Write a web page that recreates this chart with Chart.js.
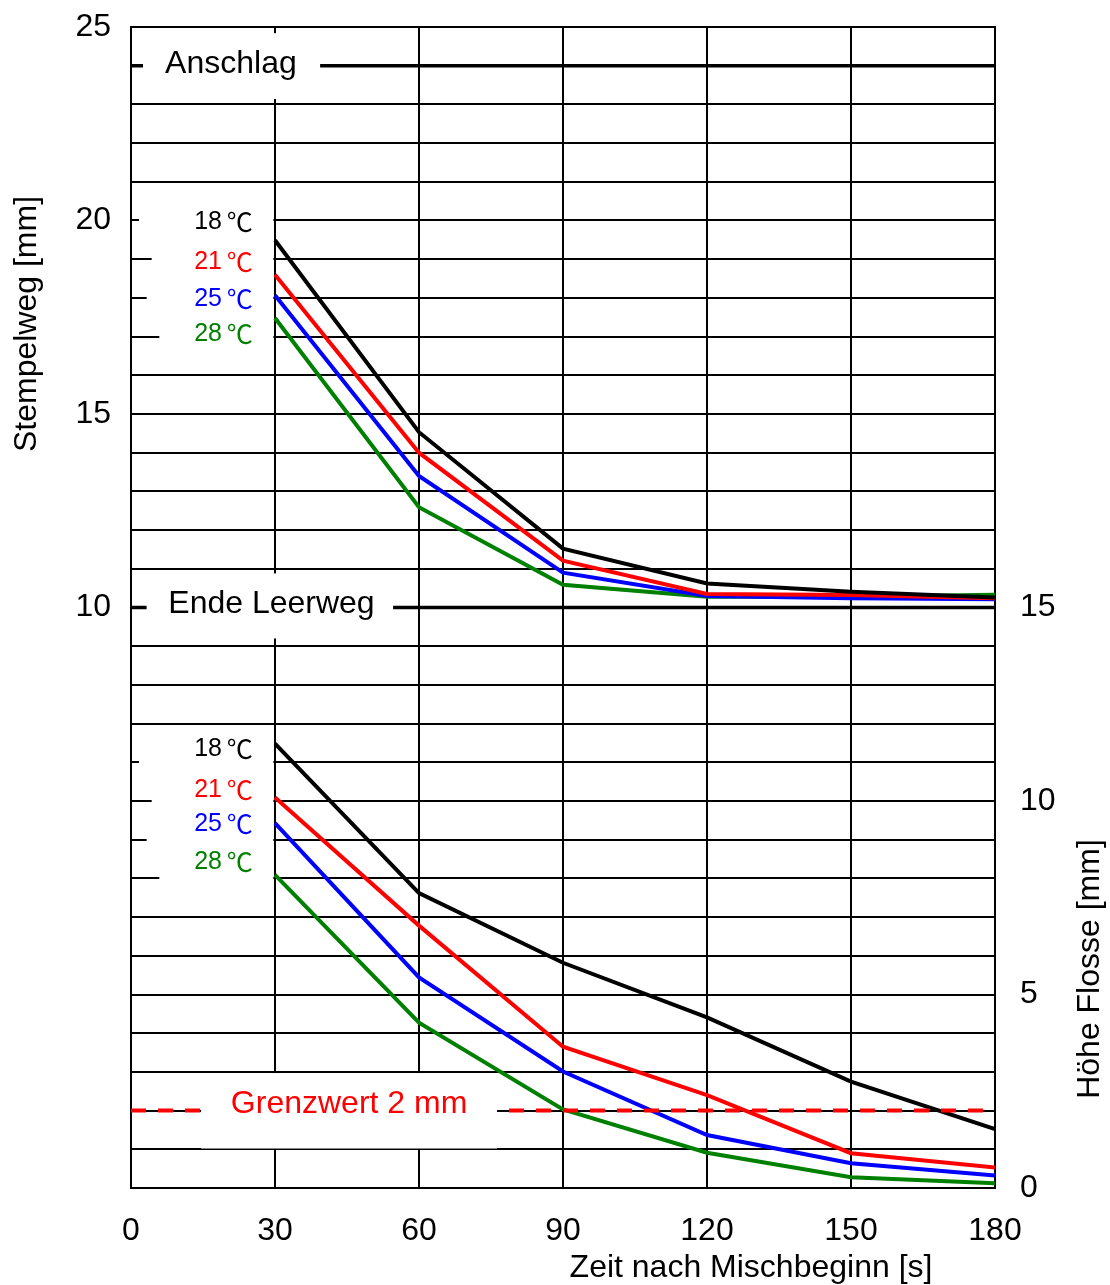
<!DOCTYPE html>
<html>
<head>
<meta charset="utf-8">
<script src="https://cdn.jsdelivr.net/npm/chart.js@4.4.1/dist/chart.umd.min.js"></script>
<style>
  html, body { margin: 0; padding: 0; background: #fff; }
  #wrap { width: 1110px; height: 1285px; }
</style>
</head>
<body>
<div id="wrap"><canvas id="chart" width="1110" height="1285"></canvas></div>
<script>
// Zeit nach Mischbeginn [s]
const times = [30, 60, 90, 120, 150, 180];
const temps = ['18', '21', '25', '28'];
const colors = ['#000000', '#ff0000', '#0000ff', '#008000'];

// Stempelweg [mm] (linke Achse)
const stempel18 = [19.49, 14.53, 11.52, 10.62, 10.41, 10.26];
const stempel21 = [18.60, 14.00, 11.21, 10.35, 10.32, 10.24];
const stempel25 = [18.07, 13.40, 10.90, 10.30, 10.24, 10.21];
const stempel28 = [17.48, 12.59, 10.59, 10.28, 10.28, 10.33];

// Höhe Flosse [mm] (rechte Achse)
const flosse18 = [11.48, 7.62, 5.82, 4.41, 2.75, 1.52];
const flosse21 = [10.09, 6.78, 3.65, 2.40, 0.90, 0.53];
const flosse25 = [9.43, 5.44, 3.01, 1.37, 0.64, 0.32];
const flosse28 = [8.09, 4.27, 2.03, 0.91, 0.28, 0.12];

// Grenzlinien
const ANSCHLAG = 24;
const LEERWEG = 10;
const GRENZWERT = 2;

// Achsbeschriftungen
const xTicks = [0, 30, 60, 90, 120, 150, 180];
const leftLabels = [10, 15, 20, 25];
const rightLabels = [0, 5, 10, 15];

const FONT = '"Liberation Sans", Arial, Helvetica, sans-serif';

function series(values, color, axis) {
  return {
    data: values.map((v, i) => ({ x: times[i], y: v })),
    yAxisID: axis,
    borderColor: color,
    borderWidth: 4,
    pointRadius: 0,
    tension: 0,
    fill: false,
  };
}

function refLine(value, axis, color, width, dash) {
  return {
    data: [{ x: 0, y: value }, { x: 180, y: value }],
    yAxisID: axis,
    borderColor: color,
    borderWidth: width,
    borderDash: dash || [],
    borderCapStyle: 'butt',
    pointRadius: 0,
    fill: false,
  };
}

const datasets = [
  refLine(ANSCHLAG, 'y', '#000', 3.5),
  refLine(LEERWEG, 'y', '#000', 3.5),
  refLine(GRENZWERT, 'y2', '#ff0000', 4, [15, 12]),
  series(stempel18, colors[0], 'y'),
  series(stempel21, colors[1], 'y'),
  series(stempel25, colors[2], 'y'),
  series(stempel28, colors[3], 'y'),
  series(flosse18, colors[0], 'y2'),
  series(flosse21, colors[1], 'y2'),
  series(flosse25, colors[2], 'y2'),
  series(flosse28, colors[3], 'y2'),
];

// weiße Beschriftungsfelder über dem Gitter
const labelPlugin = {
  id: 'labelPlugin',
  afterDatasetsDraw(chart) {
    const { ctx, scales } = chart;
    const sx = scales.x;
    const rect = (axis, x0, x1, y0, y1) => {
      const s = scales[axis];
      const px0 = sx.getPixelForValue(x0), px1 = sx.getPixelForValue(x1);
      const py0 = s.getPixelForValue(y0), py1 = s.getPixelForValue(y1);
      ctx.fillRect(px0, py0, px1 - px0, py1 - py0);
    };
    const text = (axis, str, x, y, color, font) => {
      ctx.fillStyle = color;
      ctx.font = font;
      ctx.textAlign = 'left';
      ctx.textBaseline = 'alphabetic';
      ctx.fillText(str, sx.getPixelForValue(x), scales[axis].getPixelForValue(y));
    };

    ctx.save();
    ctx.fillStyle = '#fff';
    rect('y', 2.5, 39.4, 24.84, 23.14);
    rect('y', 3.25, 54.6, 10.88, 9.2);
    rect('y2', 14.6, 76.25, 2.97, 1.02);
    const rowLeft = [1.67, 4.31, 3.27, 5.9];
    [20, 19, 18, 17].forEach((g, i) => rect('y', rowLeft[i], 29.65, g + 0.5, g - 0.5));
    [11, 10, 9, 8].forEach((g, i) => rect('y2', rowLeft[i], 29.65, g + 0.5, g - 0.5));

    const big = '32px ' + FONT;
    text('y', 'Anschlag', 7.1, 23.82, '#000', big);
    text('y', 'Ende Leerweg', 7.77, 9.86, '#000', big);
    text('y2', 'Grenzwert 2 mm', 20.8, 1.93, '#ff0000', big);

    // Temperaturen: Zahl + ℃
    const numFont = '25px ' + FONT;
    const degFont = '26px "Noto Sans CJK JP", "Noto Sans CJK SC", sans-serif';
    const upperY = [19.95, 18.93, 17.97, 17.07];
    const lowerY = [11.34, 10.27, 9.41, 8.42];
    const numRight = sx.getPixelForValue(18.96);
    const degRight = sx.getPixelForValue(25.35);
    ctx.textBaseline = 'middle';
    ctx.textAlign = 'right';
    temps.forEach((t, i) => {
      ctx.fillStyle = colors[i];
      [scales.y.getPixelForValue(upperY[i]), scales.y2.getPixelForValue(lowerY[i])].forEach((py) => {
        ctx.font = degFont;
        ctx.fillText('℃', degRight, py);
        ctx.font = numFont;
        ctx.fillText(t, numRight, py);
      });
    });
    ctx.restore();
  },
  afterDraw(chart) {
    const { ctx } = chart;
    ctx.save();
    ctx.fillStyle = '#000';
    ctx.font = '32px ' + FONT;
    ctx.textAlign = 'center';
    ctx.textBaseline = 'middle';
    ctx.fillText('Zeit nach Mischbeginn [s]', 751, 1268);
    ctx.translate(27, 324);
    ctx.rotate(-Math.PI / 2);
    ctx.fillText('Stempelweg [mm]', 0, 0);
    ctx.restore();
    ctx.save();
    ctx.fillStyle = '#000';
    ctx.font = '32px ' + FONT;
    ctx.textAlign = 'center';
    ctx.textBaseline = 'middle';
    ctx.translate(1090, 969);
    ctx.rotate(-Math.PI / 2);
    ctx.fillText('Höhe Flosse [mm]', 0, 0);
    ctx.restore();
  },
};

const gridStyle = { color: '#000', lineWidth: 2, drawTicks: false };
const tickFont = { family: FONT, size: 32 };

function fixWidth(w) {
  return (s) => { s.width = w; s.paddingTop = 0; s.paddingBottom = 0; };
}

new Chart(document.getElementById('chart'), {
  type: 'line',
  data: { datasets },
  options: {
    responsive: false,
    animation: false,
    layout: { padding: { top: 27 } },
    plugins: { legend: { display: false }, tooltip: { enabled: false } },
    scales: {
      x: {
        type: 'linear',
        min: 0,
        max: 180,
        afterBuildTicks: (s) => { s.ticks = xTicks.map((v) => ({ value: v })); },
        afterFit: (s) => { s.height = 97; },
        grid: gridStyle,
        border: { color: '#000', width: 2 },
        ticks: { color: '#000', font: tickFont, padding: 24, maxRotation: 0, autoSkip: false },
      },
      y: {
        position: 'left',
        min: -5,
        max: 25,
        afterFit: fixWidth(131),
        grid: gridStyle,
        border: { color: '#000', width: 2 },
        ticks: {
          stepSize: 1,
          autoSkip: false,
          color: '#000',
          font: tickFont,
          padding: 20,
          callback: (v) => (leftLabels.includes(v) ? String(v) : ''),
        },
      },
      y2: {
        position: 'right',
        min: 0,
        max: 30,
        afterFit: fixWidth(115),
        grid: { display: false, drawTicks: false },
        border: { color: '#000', width: 2 },
        ticks: {
          stepSize: 1,
          autoSkip: false,
          color: '#000',
          font: tickFont,
          padding: 25,
          callback: (v) => (rightLabels.includes(v) ? String(v) : ''),
        },
      },
    },
  },
  plugins: [labelPlugin],
});
</script>
</body>
</html>
